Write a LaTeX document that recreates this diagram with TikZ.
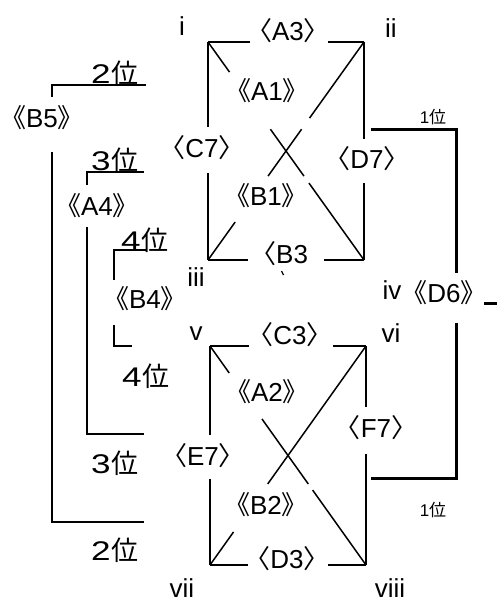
\documentclass[tikz,border=0pt]{standalone}
\usepackage{fontspec}
\setmainfont{Liberation Sans}
\newfontfamily\jp{Noto Sans CJK JP}
\usetikzlibrary{calc}
\newcommand\myL{{\jp 〈}}
\newcommand\myR{{\jp 〉}}
\newcommand\myLL{{\jp 《}}
\newcommand\myRR{{\jp 》}}
\newcommand\myD[1]{\scalebox{1.3}[1]{#1}}
\tikzset{
  lbl/.style={inner sep=0pt, font=\fontsize{26}{28}\selectfont},
  rank/.style={inner sep=0pt, font=\fontsize{27}{29}\selectfont},
  small/.style={inner sep=0pt, font=\fontsize{17}{19}\selectfont},
  edge/.style={line width=1.5pt},
  brk/.style={line width=1.5pt},
  win/.style={line width=3pt}
}
\begin{document}
\begin{tikzpicture}[x=1pt,y=-1pt]
\useasboundingbox (0,0) rectangle (497,603);
% corners
\coordinate (ci) at (208,42);
\coordinate (cii) at (364,42);
\coordinate (ciii) at (208,260);
\coordinate (civ) at (364,260);
\coordinate (cv) at (210,346);
\coordinate (cvi) at (366,346);
\coordinate (cvii) at (210,565);
\coordinate (cviii) at (366,565);
% corner labels
\node[lbl] (ni) at (182,26) {i};
\node[lbl] (nii) at (391,28) {ii};
\node[lbl] (niii) at (196,277) {iii};
\node[lbl] (niv) at (392,290) {iv};
\node[lbl] (nv) at (196,334) {v};
\node[lbl] (nvi) at (391,333) {vi};
\node[lbl] (nvii) at (182,588) {vii};
\node[lbl] (nviii) at (390,588) {viii};
% top square edges
\draw[edge] (ci) -- ($(ci)!0.27!(cii)$) ($(ci)!0.77!(cii)$) -- (cii);
\draw[edge] (ci) -- ($(ci)!0.39!(ciii)$) ($(ci)!0.60!(ciii)$) -- (ciii);
\draw[edge] (cii) -- ($(cii)!0.445!(civ)$) ($(cii)!0.647!(civ)$) -- (civ);
\draw[edge] (ciii) -- ($(ciii)!0.256!(civ)$) ($(ciii)!0.744!(civ)$) -- (civ);
\draw[edge] (ci) -- ($(ci)!0.138!(civ)$) ($(ci)!0.40!(civ)$) -- ($(ci)!0.615!(civ)$) ($(ci)!0.647!(civ)$) -- (civ);
\draw[edge] (cii) -- ($(cii)!0.349!(ciii)$) ($(cii)!0.40!(ciii)$) -- ($(cii)!0.615!(ciii)$) ($(cii)!0.826!(ciii)$) -- (ciii);
% bottom square edges
\draw[edge] (cv) -- ($(cv)!0.25!(cvi)$) ($(cv)!0.79!(cvi)$) -- (cvi);
\draw[edge] (cv) -- ($(cv)!0.406!(cvii)$) ($(cv)!0.607!(cvii)$) -- (cvii);
\draw[edge] (cvi) -- ($(cvi)!0.279!(cviii)$) ($(cvi)!0.493!(cviii)$) -- (cviii);
\draw[edge] (cvii) -- ($(cvii)!0.244!(cviii)$) ($(cvii)!0.756!(cviii)$) -- (cviii);
\draw[edge] (cv) -- ($(cv)!0.123!(cviii)$) ($(cv)!0.333!(cviii)$) -- ($(cv)!0.63!(cviii)$) ($(cv)!0.658!(cviii)$) -- (cviii);
\draw[edge] (cvi) -- ($(cvi)!0.63!(cvii)$) ($(cvi)!0.849!(cvii)$) -- (cvii);
% edge labels
\node[lbl] (A3) at (288,31) {\myL A3\myR};
\node[lbl] (A1) at (267,91) {\myLL A1\myRR};
\node[lbl] (C7) at (202,148) {\myL C7\myR};
\node[lbl] (D7) at (367,159) {\myL D7\myR};
\node[lbl] (B1) at (266,196) {\myLL B1\myRR};
\node[lbl,anchor=west] (B3) at (250,254) {\myL B3};
\draw[line width=1.2pt] (281.5,271) -- (283.5,275);
\node[lbl] (C3) at (290,335) {\myL C3\myR};
\node[lbl] (A2) at (267,392) {\myLL A2\myRR};
\node[lbl] (E7) at (203,456) {\myL E7\myR};
\node[lbl] (F7) at (376,428) {\myL F7\myR};
\node[lbl] (B2) at (266,505) {\myLL B2\myRR};
\node[lbl] (D3) at (287,559) {\myL D3\myR};
\node[lbl] (D6) at (444,293) {\myLL D6\myRR};
\node[lbl] (B5) at (42,118) {\myLL B5\myRR};
\node[lbl] (A4) at (97,206) {\myLL A4\myRR};
\node[lbl] (B4) at (145,299) {\myLL B4\myRR};
% rank labels
\node[rank] (r2a) at (115,73) {\myD{2}\kern1pt{\jp 位}};
\node[rank] (r3a) at (115,160) {\myD{3}\kern1pt{\jp 位}};
\node[rank] (r4a) at (145,240) {\myD{4}\kern1pt{\jp 位}};
\node[rank] (r4b) at (146,376) {\myD{4}\kern1pt{\jp 位}};
\node[rank] (r3b) at (115,463) {\myD{3}\kern1pt{\jp 位}};
\node[rank] (r2b) at (115,550) {\myD{2}\kern1pt{\jp 位}};
\node[small] (r1a) at (433,117) {1{\jp 位}};
\node[small] (r1b) at (433,510) {1{\jp 位}};
% left brackets
\coordinate (b5t) at (146,85);
\coordinate (b5b) at (144,522);
\draw[brk] (b5t) -- (52,85) -- (52,97);
\draw[brk] (52,152) -- (52,522) -- (b5b);
\coordinate (a4t) at (144,172);
\coordinate (a4b) at (144,434);
\draw[brk] (a4t) -- (87,172) -- (87,185);
\draw[brk] (87,227) -- (87,434) -- (a4b);
\coordinate (b4t) at (147,250);
\coordinate (b4b) at (132,346);
\draw[brk] (b4t) -- (114,250) -- (114,280);
\draw[brk] (114,325) -- (114,346) -- (b4b);
% right bracket (winner)
\coordinate (w1) at (371,129);
\coordinate (w2) at (371,478);
\coordinate (wout) at (497,303);
\draw[win] (w1) -- (456,129) -- (456,273);
\draw[win] (456,323) -- (456,478) -- (w2);
\draw[win] (484,303) -- (wout);
\end{tikzpicture}
\end{document}
